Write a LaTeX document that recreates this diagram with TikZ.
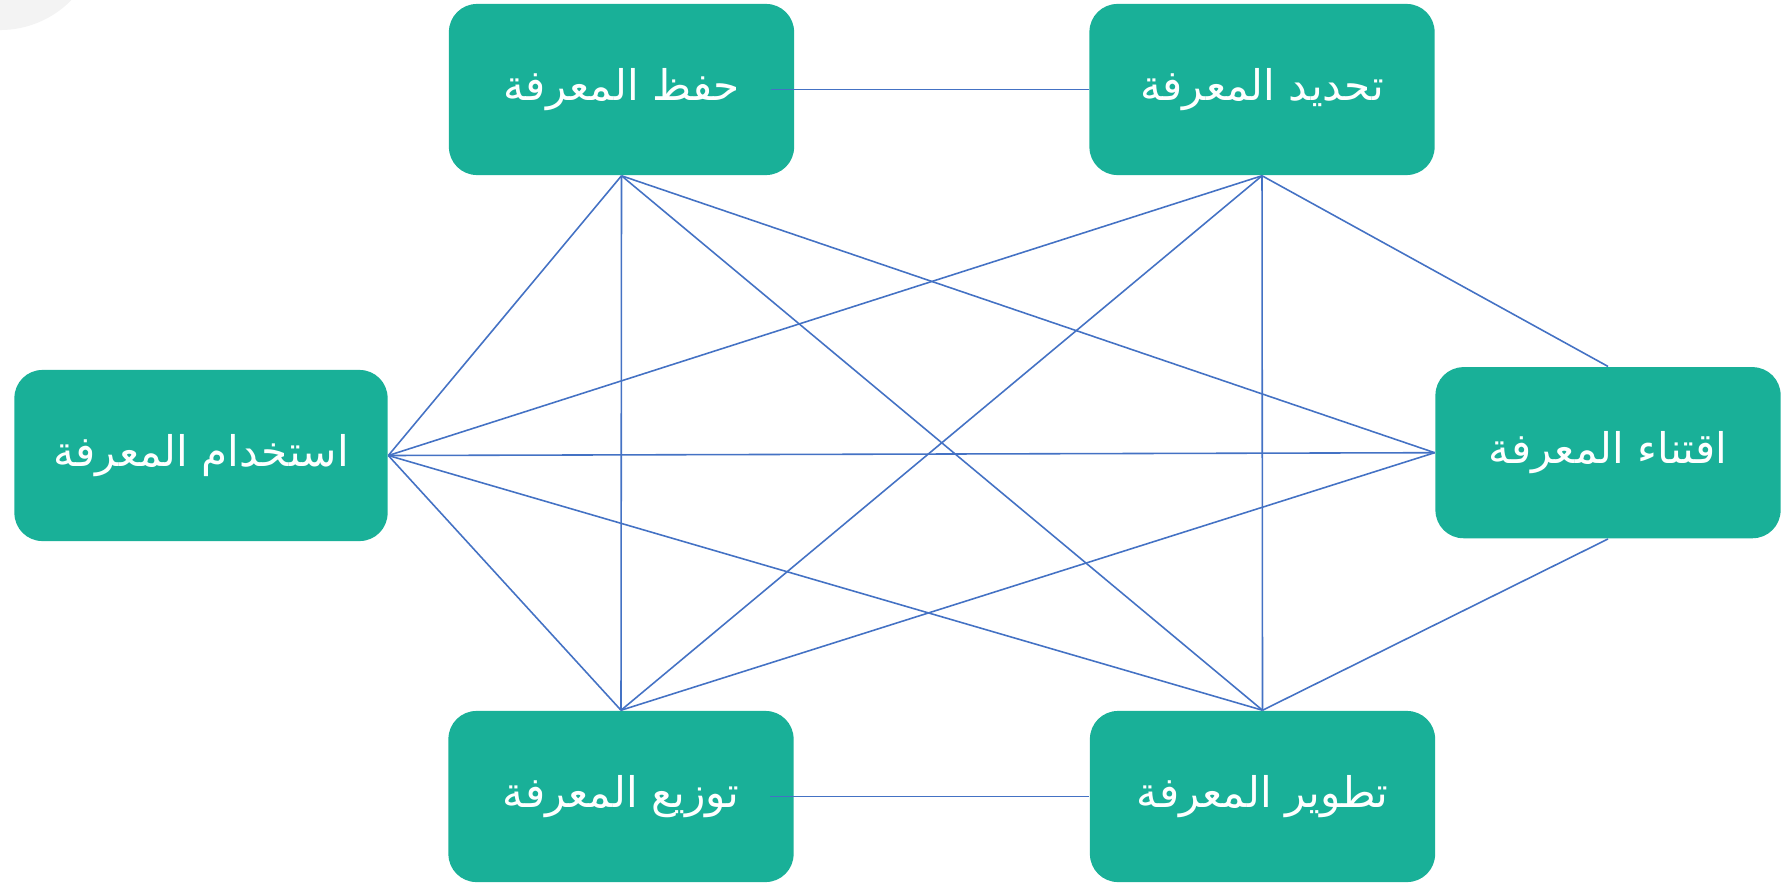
\documentclass[tikz,border=0pt]{standalone}
\usepackage{fontspec}
\newfontfamily\arabicfont[Script=Arabic]{DejaVu Sans}
\TeXXeTstate=1

\definecolor{boxgreen}{HTML}{19B098}
\definecolor{linkblue}{HTML}{4472C4}
\definecolor{cornergray}{HTML}{F3F3F3}

\tikzset{
  stagebox/.style={fill=boxgreen, rounded corners=0.28cm, minimum width=3.45cm,
    minimum height=1.71cm, text=white, inner sep=0pt,
    font=\arabicfont\fontsize{12}{15}\selectfont},
  link/.style={line width=0.45pt, linkblue}
}

\begin{document}
\begin{tikzpicture}[x=0.01cm, y=-0.01cm]

  \useasboundingbox (0,0) rectangle (1789,882);

  % Corner shade:
  \fill[cornergray] (0,-70) circle[radius=1cm];

  % Stages:
  \node[stagebox] (keep)    at ( 621.5,  89.5) {\beginR حفظ المعرفة\endR};
  \node[stagebox] (find)    at (1262.0,  89.5) {\beginR تحديد المعرفة\endR};
  \node[stagebox, minimum width=3.73cm]
                  (use)     at ( 201.0, 455.5) {\beginR استخدام المعرفة\endR};
  \node[stagebox] (acquire) at (1608.0, 452.7) {\beginR اقتناء المعرفة\endR};
  \node[stagebox] (share)   at ( 621.0, 796.5) {\beginR توزيع المعرفة\endR};
  \node[stagebox] (develop) at (1262.5, 796.5) {\beginR تطوير المعرفة\endR};

  % Horizontal links:
  \draw[link, shorten <=-0.24cm] (keep.east)  -- (find.west);
  \draw[link, shorten <=-0.24cm] (share.east) -- (develop.west);

  % From the top row:
  \draw[link] (keep.south) -- (use.east);
  \draw[link] (keep.south) -- (share.north);
  \draw[link] (keep.south) -- (develop.north);
  \draw[link] (keep.south) -- (acquire.west);
  \draw[link] (find.south) -- (use.east);
  \draw[link] (find.south) -- (share.north);
  \draw[link] (find.south) -- (develop.north);
  \draw[link] (find.south) -- (acquire.north);

  % Across the middle:
  \draw[link] (use.east) -- (acquire.west);
  \draw[link] (use.east) -- (share.north);
  \draw[link] (use.east) -- (develop.north);
  \draw[link] (acquire.west)  -- (share.north);
  \draw[link] (acquire.south) -- (develop.north);

\end{tikzpicture}
\end{document}
